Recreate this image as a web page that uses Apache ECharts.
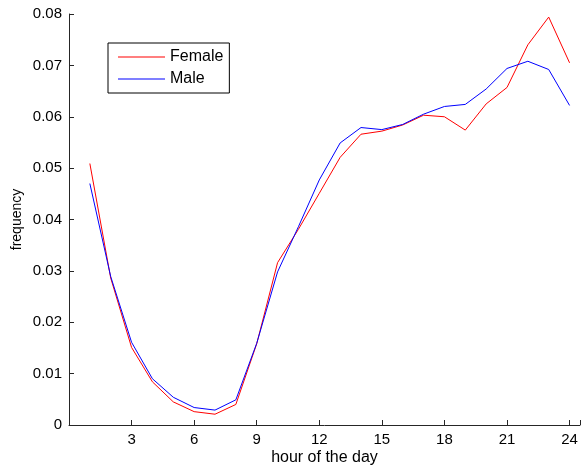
<!DOCTYPE html>
<html>
<head>
<meta charset="utf-8">
<script src="https://cdn.jsdelivr.net/npm/echarts@6/dist/echarts.min.js"></script>
<style>html,body{margin:0;padding:0;background:#fff}#c{width:581px;height:468px}</style>
</head>
<body>
<div id="c"></div>
<script>
var hours = [1,2,3,4,5,6,7,8,9,10,11,12,13,14,15,16,17,18,19,20,21,22,23,24];
var female = [0.0509,0.0286,0.0151,0.0084,0.0045,0.0026,0.0021,0.0040,0.0158,0.0316,0.0381,0.0451,0.0521,0.0566,0.0572,0.0584,0.0603,0.0600,0.0574,0.0625,0.0657,0.0740,0.0794,0.0705];
var male = [0.0470,0.0289,0.0161,0.0090,0.0054,0.0034,0.0029,0.0049,0.0159,0.0298,0.0386,0.0477,0.0549,0.0579,0.0575,0.0585,0.0605,0.0620,0.0624,0.0654,0.0694,0.0708,0.0692,0.0622];
var seriesNames = ['Female','Male'];
var xTicks = [3,6,9,12,15,18,21,24];

function pairs(v){ return hours.map(function(h,i){ return [h, v[i]]; }); }
var font = 'Liberation Sans, Arial, Helvetica, sans-serif';
var chart = echarts.init(document.getElementById('c'), null, {renderer:'canvas'});
chart.setOption({
  animation:false,
  backgroundColor:'#fff',
  grid:{left:69, right:1, top:14, bottom:43, containLabel:false, outerBoundsMode:'none'},
  legend:{
    data:seriesNames, orient:'vertical', left:108, top:43,
    backgroundColor:'#fff', borderColor:'#000', borderWidth:1, borderRadius:0,
    padding:[6,6,6,10], itemWidth:47, itemHeight:1, itemGap:6, itemTextGap:6,
    icon:'rect',
    textStyle:{fontFamily:font, fontSize:16, color:'#000', lineHeight:16}
  },
  xAxis:{
    type:'value', min:0, max:24.5, interval:3,
    name:'hour of the day', nameLocation:'middle', nameGap:25, nameMoveOverlap:false,
    nameTextStyle:{fontFamily:font, fontSize:16, color:'#000'},
    axisLine:{show:true, onZero:false, lineStyle:{color:'#262626', width:1}},
    axisTick:{show:true, inside:true, length:5, lineStyle:{color:'#262626'}},
    axisLabel:{fontFamily:font, fontSize:15, color:'#000', margin:7,
      formatter:function(v){ return xTicks.indexOf(v)>=0 ? String(v) : ''; }},
    splitLine:{show:false}
  },
  yAxis:{
    type:'value', min:0, max:0.08, interval:0.01,
    name:'frequency', nameLocation:'middle', nameGap:45, nameRotate:90, nameMoveOverlap:false,
    nameTextStyle:{fontFamily:font, fontSize:14, color:'#000'},
    axisLine:{show:true, lineStyle:{color:'#262626', width:1}},
    axisTick:{show:true, inside:true, length:5, lineStyle:{color:'#262626'}},
    axisLabel:{fontFamily:font, fontSize:15, color:'#000', margin:7,
      formatter:function(v){ return v===0 ? '0' : v.toFixed(2); }},
    splitLine:{show:false}
  },
  series:[
    {name:seriesNames[0], type:'line', data:pairs(female), symbol:'none', lineStyle:{color:'#ff0000', width:1}, itemStyle:{color:'#ff0000'}},
    {name:seriesNames[1], type:'line', data:pairs(male), symbol:'none', lineStyle:{color:'#0000ff', width:1}, itemStyle:{color:'#0000ff'}}
  ]
});
</script>
</body>
</html>
